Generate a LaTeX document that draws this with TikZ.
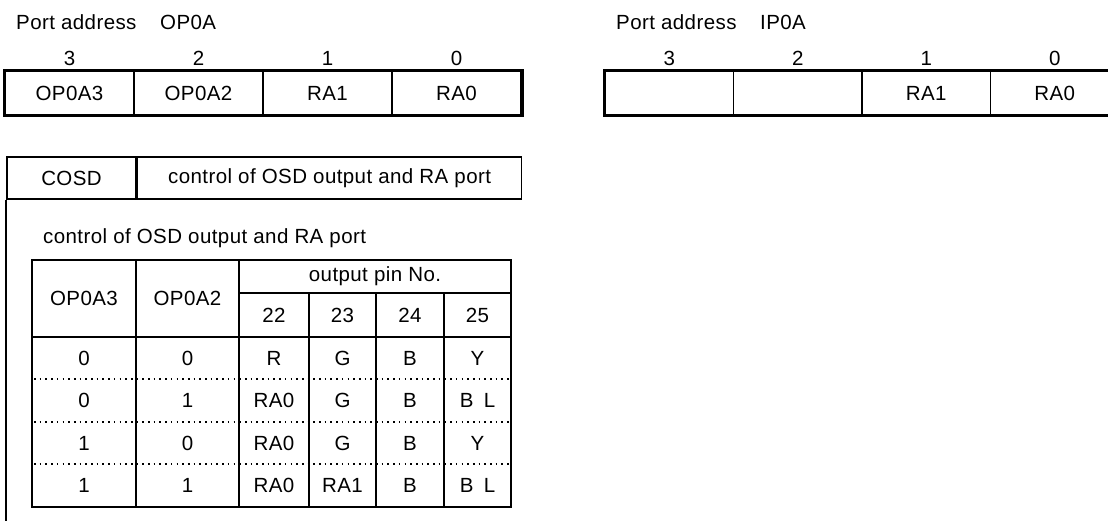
\documentclass[tikz,border=0pt]{standalone}
\usepackage{fontspec}
\setmainfont{Liberation Sans}[LetterSpace=2]
\usetikzlibrary{positioning}
\newcommand{\regfont}{\fontsize{20.5}{24}\selectfont}
\tikzstyle{Areg}=[draw,line width=1.6pt,minimum width=129pt,minimum height=43pt,inner sep=0,node distance=129pt]
\tikzstyle{Abit}=[inner sep=0,node distance=35pt]
\tikzstyle{Aframe}=[line width=3.4pt]
\tikzstyle{Agrid}=[line width=1.6pt]
\tikzstyle{Adots}=[line width=1.6pt,dash pattern=on 1.6pt off 4.1pt]
\tikzstyle{Ahead}=[draw,line width=1.6pt,minimum height=42pt,inner sep=0]
\newcommand{\regcell}[3]{\node[Areg,right of=#1] (#2) {#3};}
\newcommand{\regbit}[2]{\node[Abit,above of=#1] (#1b) {#2};}
\begin{document}
\begin{tikzpicture}[x=1pt,y=-1pt,every node/.style={font=\regfont}]
  \useasboundingbox (0,0) rectangle (1108,520);
  \clip (0,0) rectangle (1108,520);
  % port OP0A
  \node[anchor=west,inner sep=0] (opl) at (16,22) {Port address};
  \node[anchor=west,inner sep=0] (opn) at (160,22) {OP0A};
  \node[Areg] (op3) at (69.5,93) {OP0A3};
  \regcell{op3}{op2}{OP0A2};
  \regcell{op2}{op1}{RA1};
  \regcell{op1}{op0}{RA0};
  \regbit{op3}{3} \regbit{op2}{2} \regbit{op1}{1} \regbit{op0}{0}
  \draw[Aframe] (op3.north west) rectangle (op0.south east);
  % port IP0A
  \node[anchor=west,inner sep=0] (ipl) at (616,22) {Port address};
  \node[anchor=west,inner sep=0] (ipn) at (760,22) {IP0A};
  \node[Areg,minimum width=128.5pt,node distance=128.5pt] (ip3) at (669.25,93) {};
  \node[Areg,minimum width=128.5pt,node distance=128.5pt,right of=ip3] (ip2) {};
  \node[Areg,minimum width=128.5pt,node distance=128.5pt,right of=ip2] (ip1) {RA1};
  \node[Areg,minimum width=128.5pt,node distance=128.5pt,right of=ip1] (ip0) {RA0};
  \regbit{ip3}{3} \regbit{ip2}{2} \regbit{ip1}{1} \regbit{ip0}{0}
  \draw[Aframe] (ip3.north west) rectangle (ip0.south east);
  % COSD
  \node[Ahead,minimum width=129pt] (cosd) at (71.5,178) {COSD};
  \node[Ahead,minimum width=384pt,anchor=west] (ctl) at (cosd.east) {control of OSD output and RA port};
  \draw[Agrid] (cosd.south west) -- (cosd.south west |- 0,525);
  \node[anchor=west,inner sep=0] (sub) at (43,238) {control of OSD output and RA port};
  % table
  \draw[Agrid] (32,260) rectangle (511,507);
  \draw[Agrid] (32,337) -- (511,337) (239,293) -- (511,293);
  \draw[Agrid] (136,260) -- (136,507) (239,260) -- (239,507);
  \foreach \x in {309,376,444} \draw[Agrid] (\x,293) -- (\x,507);
  \foreach \y in {379,422,464} \draw[Adots] (34,\y) -- (510,\y);
  \node (h3) at (84,298.5) {OP0A3};
  \node (h2) at (187.5,298.5) {OP0A2};
  \node (hp) at (375,276.5) {output pin No.};
  \foreach \x/\p in {274/22,342.5/23,410/24,477.5/25} \node (p\p) at (\x,315) {\p};
  \foreach \a/\b/\c/\d/\e/\f [count=\i] in {0/0/R/G/B/Y,0/1/RA0/G/B/B\enspace L,1/0/RA0/G/B/Y,1/1/RA0/RA1/B/B\enspace L}{
    \pgfmathsetmacro\y{315.5+42.5*\i}
    \node (r\i-a) at (84,\y) {\a};
    \node (r\i-b) at (187.5,\y) {\b};
    \node (r\i-c) at (274,\y) {\c};
    \node (r\i-d) at (342.5,\y) {\d};
    \node (r\i-e) at (410,\y) {\e};
    \node (r\i-f) at (477.5,\y) {\f};
  }
\end{tikzpicture}
\end{document}
